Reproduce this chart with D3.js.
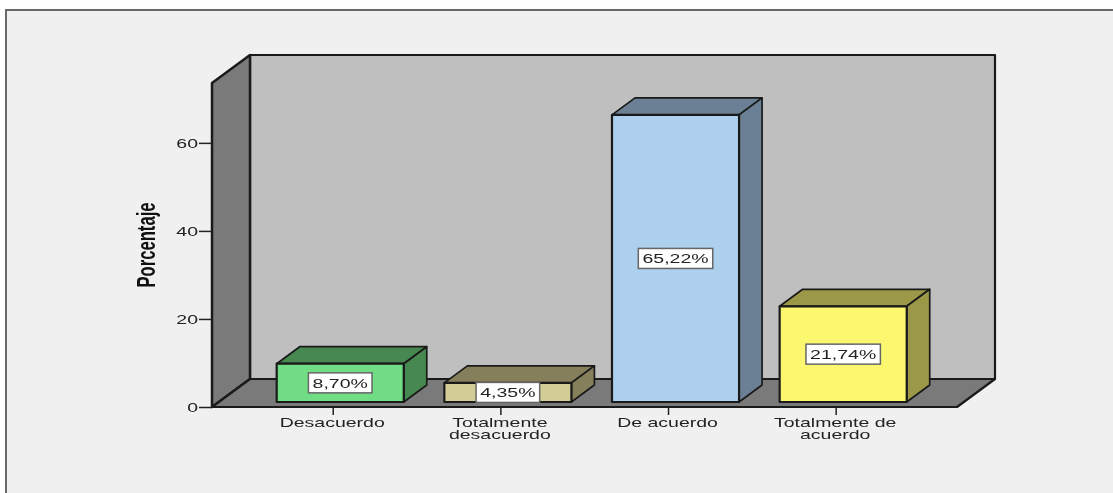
<!DOCTYPE html>
<html>
<head>
<meta charset="utf-8">
<script src="https://cdn.jsdelivr.net/npm/d3@7"></script>
<style>
  html, body { margin: 0; padding: 0; background: #fff; }
  svg { display: block; filter: blur(0.4px); }
  text { font-family: "Liberation Sans", Arial, sans-serif; fill: #222; }
</style>
</head>
<body>
<svg id="chart"></svg>
<script>
// values
const categories = ["Desacuerdo", "Totalmente desacuerdo", "De acuerdo", "Totalmente de acuerdo"];
const percentages = [8.70, 4.35, 65.22, 21.74];
const tickLabels = [["Desacuerdo"], ["Totalmente", "desacuerdo"], ["De acuerdo"], ["Totalmente de", "acuerdo"]];
const yTicks = [0, 20, 40, 60];
const yMax = 73.6;
const frontColors = ["#70dc84", "#d3cd95", "#acd0ee", "#fbf870"];
const sideColors = ["#46884f", "#857f5c", "#6b8094", "#9b9848"];

const width = 1113, height = 493;
const stretch = 1.5;   // the original text is stretched sideways

const svg = d3.select("#chart").attr("width", width).attr("height", height);

// background and outer frame
svg.append("rect")
    .attr("x", 6).attr("y", 10)
    .attr("width", width).attr("height", height)
    .attr("fill", "#f0f0f0")
    .attr("stroke", "#5a5a5a")
    .attr("stroke-width", 1.8);

const y = d3.scaleLinear().domain([0, yMax]).range([407, 83]);
const x = d3.scaleBand().domain(categories)
    .range([249.4, 920])
    .paddingInner(0.242)
    .paddingOuter(0.121);

// box depth
const wall = { dx: 38, dy: -28, left: 212, right: 957 };
const bar = { dx: 23, dy: -17, shift: 7, lift: 5 };

const poly = pts => pts.map(p => p.join(",")).join(" ");

function face(sel, pts, fill, sw) {
    sel.append("polygon")
        .attr("points", poly(pts))
        .attr("fill", fill)
        .attr("stroke", "#1a1a1a")
        .attr("stroke-width", sw)
        .attr("stroke-linejoin", "round");
}

// walls and floor
const walls = svg.append("g");
const y0 = y(0), yT = y(yMax);
face(walls, [[wall.left + wall.dx, yT + wall.dy], [wall.right + wall.dx, yT + wall.dy],
    [wall.right + wall.dx, y0 + wall.dy], [wall.left + wall.dx, y0 + wall.dy]], "#bfbfbf", 2.2);
face(walls, [[wall.left, yT], [wall.left + wall.dx, yT + wall.dy],
    [wall.left + wall.dx, y0 + wall.dy], [wall.left, y0]], "#7a7a7a", 2.5);
face(walls, [[wall.left, y0], [wall.left + wall.dx, y0 + wall.dy],
    [wall.right + wall.dx, y0 + wall.dy], [wall.right, y0]], "#7a7a7a", 2.2);

// axes
const yAxis = svg.append("g")
    .attr("transform", `translate(${wall.left},0)`)
    .call(d3.axisLeft(y).tickValues(yTicks).tickSize(13).tickPadding(1).tickFormat(d3.format("d")));
yAxis.select(".domain").remove();
yAxis.selectAll("line").attr("stroke", "#222").attr("stroke-width", 1.5);
yAxis.selectAll("text")
    .attr("x", -14 / stretch)
    .attr("transform", `scale(${stretch},1)`)
    .style("font-size", "13px");

const xAxis = svg.append("g")
    .attr("transform", `translate(0,${y0})`)
    .call(d3.axisBottom(x).tickSize(8).tickSizeOuter(0));
xAxis.select(".domain").remove();
xAxis.selectAll("line").attr("stroke", "#222").attr("stroke-width", 1.5);
xAxis.selectAll("text")
    .attr("transform", `translate(-1,0) scale(${stretch},1)`)
    .style("font-size", "13px")
    .each(function(d, i) {
        const t = d3.select(this).text(null).attr("y", 0).attr("dy", null);
        tickLabels[i].forEach((line, j) => {
            t.append("tspan").attr("x", 0).attr("y", 19.7 + j * 12.7).text(line);
        });
    });

// y axis title
svg.append("text")
    .attr("transform", `translate(155,245) rotate(-90) scale(0.64,1)`)
    .attr("text-anchor", "middle")
    .style("font-size", "26px")
    .style("font-weight", "bold")
    .style("fill", "#111")
    .text("Porcentaje");

// bars
const bars = svg.append("g").selectAll("g")
    .data(categories)
    .enter().append("g");

bars.each(function(c, i) {
    const g = d3.select(this);
    const x0 = x(c) + bar.shift, x1 = x0 + x.bandwidth();
    const yb = y(0) - bar.lift;
    const yt = y(percentages[i]) - bar.lift;

    face(g, [[x0, yt], [x0 + bar.dx, yt + bar.dy], [x1 + bar.dx, yt + bar.dy], [x1, yt]], sideColors[i], 1.7);
    face(g, [[x1, yt], [x1 + bar.dx, yt + bar.dy], [x1 + bar.dx, yb + bar.dy], [x1, yb]], sideColors[i], 1.7);
    face(g, [[x0, yt], [x1, yt], [x1, yb], [x0, yb]], frontColors[i], 2.2);

    // value label in a white box
    const cx = (x0 + x1) / 2, cy = (yt + yb) / 2;
    const box = g.append("rect");
    const label = g.append("text")
        .attr("text-anchor", "middle")
        .attr("transform", `translate(${cx},${cy + 5}) scale(${stretch},1)`)
        .style("font-size", "13px")
        .text(d3.format(".2f")(percentages[i]).replace(".", ",") + "%");
    const w = label.node().getBBox().width * stretch + 8;
    box.attr("x", cx - w / 2).attr("y", cy - 10)
        .attr("width", w).attr("height", 20)
        .attr("fill", "#fff")
        .attr("stroke", "#666")
        .attr("stroke-width", 1.5);
});
</script>
</body>
</html>
